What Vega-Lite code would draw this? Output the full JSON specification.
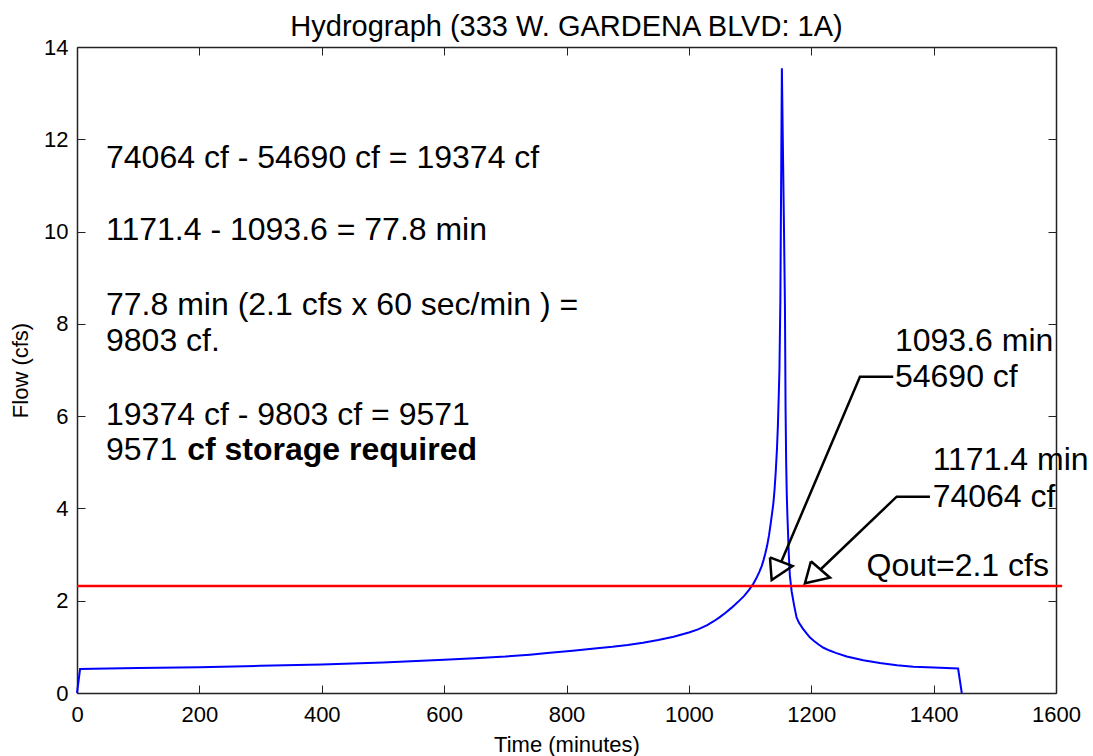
{
  "$schema": "https://vega.github.io/schema/vega-lite/v6.json",
  "width": 979,
  "height": 646,
  "autosize": "none",
  "padding": {"left": 77, "top": 47, "right": 37, "bottom": 63},
  "background": "white",
  "config": {
    "font": "Liberation Sans",
    "view": {"stroke": null},
    "axis": {
      "domainColor": "#222222",
      "domainWidth": 1.5,
      "tickColor": "#222222",
      "tickWidth": 1,
      "tickSize": -8,
      "grid": false,
      "labelFlush": false,
      "labelFont": "Liberation Sans",
      "labelFontSize": 22,
      "labelColor": "black",
      "titleFont": "Liberation Sans",
      "titleFontSize": 22,
      "titleFontWeight": "normal",
      "titleColor": "black"
    }
  },
  "title": {
    "text": "Hydrograph (333 W. GARDENA BLVD: 1A)",
    "font": "Liberation Sans",
    "fontSize": 29,
    "fontWeight": "normal",
    "color": "black",
    "offset": -6
  },
  "datasets": {
    "flow": [
      {"t": 0, "q": 0},
      {"t": 5, "q": 0.52},
      {"t": 50, "q": 0.53},
      {"t": 100, "q": 0.54},
      {"t": 200, "q": 0.56},
      {"t": 300, "q": 0.59},
      {"t": 400, "q": 0.62},
      {"t": 500, "q": 0.66},
      {"t": 600, "q": 0.72},
      {"t": 650, "q": 0.755},
      {"t": 700, "q": 0.79},
      {"t": 740, "q": 0.83},
      {"t": 773, "q": 0.87},
      {"t": 810, "q": 0.915},
      {"t": 850, "q": 0.97},
      {"t": 875, "q": 1.0},
      {"t": 900, "q": 1.04},
      {"t": 925, "q": 1.09},
      {"t": 950, "q": 1.15},
      {"t": 975, "q": 1.22},
      {"t": 1000, "q": 1.31},
      {"t": 1015, "q": 1.38},
      {"t": 1030, "q": 1.47},
      {"t": 1040, "q": 1.55},
      {"t": 1050, "q": 1.64},
      {"t": 1060, "q": 1.74},
      {"t": 1070, "q": 1.85},
      {"t": 1080, "q": 1.97},
      {"t": 1090, "q": 2.1},
      {"t": 1098, "q": 2.23},
      {"t": 1105, "q": 2.36},
      {"t": 1110, "q": 2.48},
      {"t": 1115, "q": 2.62},
      {"t": 1119, "q": 2.75},
      {"t": 1122, "q": 2.88},
      {"t": 1125, "q": 3.03},
      {"t": 1128, "q": 3.2},
      {"t": 1131, "q": 3.42},
      {"t": 1134, "q": 3.7},
      {"t": 1136, "q": 3.9},
      {"t": 1138, "q": 4.1},
      {"t": 1140, "q": 4.4},
      {"t": 1142, "q": 4.8},
      {"t": 1144, "q": 5.3},
      {"t": 1145.5, "q": 5.8},
      {"t": 1147, "q": 6.5},
      {"t": 1148, "q": 7.0},
      {"t": 1149.5, "q": 8.5},
      {"t": 1151, "q": 11.5},
      {"t": 1152, "q": 13.54},
      {"t": 1153.5, "q": 12.0},
      {"t": 1155.5, "q": 10.0},
      {"t": 1157, "q": 8.4},
      {"t": 1158, "q": 6.2},
      {"t": 1159, "q": 5.0},
      {"t": 1160, "q": 4.3},
      {"t": 1161, "q": 3.85},
      {"t": 1162, "q": 3.5},
      {"t": 1163.5, "q": 2.95},
      {"t": 1165, "q": 2.55},
      {"t": 1168, "q": 2.2},
      {"t": 1172, "q": 1.9},
      {"t": 1176, "q": 1.64},
      {"t": 1180, "q": 1.52},
      {"t": 1186, "q": 1.4},
      {"t": 1192, "q": 1.3},
      {"t": 1198, "q": 1.2},
      {"t": 1205, "q": 1.12},
      {"t": 1212, "q": 1.05},
      {"t": 1220, "q": 0.98},
      {"t": 1230, "q": 0.92},
      {"t": 1240, "q": 0.87},
      {"t": 1258, "q": 0.79},
      {"t": 1285, "q": 0.71},
      {"t": 1312, "q": 0.65},
      {"t": 1340, "q": 0.6},
      {"t": 1367, "q": 0.57},
      {"t": 1400, "q": 0.55},
      {"t": 1440, "q": 0.53},
      {"t": 1446, "q": 0}
    ],
    "qout": [{"t": 0, "t2": 1610, "q": 2.32}],
    "arrows": [
      {"seg": "a1", "ord": 1, "t": 1334, "q": 6.855},
      {"seg": "a1", "ord": 2, "t": 1279.6, "q": 6.855},
      {"seg": "a1", "ord": 3, "t": 1151, "q": 2.845},
      {"seg": "h1", "ord": 1, "t": 1132.5, "q": 2.94},
      {"seg": "h1", "ord": 2, "t": 1169.5, "q": 2.75},
      {"seg": "h1", "ord": 3, "t": 1135.3, "q": 2.449},
      {"seg": "h1", "ord": 4, "t": 1132.5, "q": 2.94},
      {"seg": "a2", "ord": 1, "t": 1394, "q": 4.254},
      {"seg": "a2", "ord": 2, "t": 1339.6, "q": 4.254},
      {"seg": "a2", "ord": 3, "t": 1215.1, "q": 2.677},
      {"seg": "h2", "ord": 1, "t": 1199.5, "q": 2.854},
      {"seg": "h2", "ord": 2, "t": 1230.6, "q": 2.499},
      {"seg": "h2", "ord": 3, "t": 1189.7, "q": 2.378},
      {"seg": "h2", "ord": 4, "t": 1199.5, "q": 2.854}
    ],
    "notes": [
      {"label": "74064 cf - 54690 cf = 19374 cf", "t": 47.4, "q": 11.378},
      {"label": "1171.4 - 1093.6 = 77.8 min", "t": 47.4, "q": 9.818},
      {"label": "77.8 min (2.1 cfs x 60 sec/min ) =", "t": 47.4, "q": 8.192},
      {"label": "9803 cf.", "t": 47.4, "q": 7.412},
      {"label": "19374 cf - 9803 cf = 9571", "t": 47.4, "q": 5.808},
      {"label": "9571", "t": 47.4, "q": 5.05},
      {"label": "1093.6 min", "t": 1336.8, "q": 7.412},
      {"label": "54690 cf", "t": 1336.8, "q": 6.632},
      {"label": "1171.4 min", "t": 1398.4, "q": 4.833},
      {"label": "74064 cf", "t": 1398.4, "q": 4.031},
      {"label": "Qout=2.1 cfs", "t": 1290.5, "q": 2.536}
    ],
    "boldnotes": [
      {"label": "cf storage required", "t": 180, "q": 5.05}
    ]
  },
  "layer": [
    {
      "data": {"name": "flow"},
      "mark": {"type": "line", "color": "#0000ff", "strokeWidth": 2},
      "encoding": {
        "x": {
          "field": "t", "type": "quantitative",
          "scale": {"domain": [0, 1600], "nice": false, "zero": false},
          "axis": {"orient": "bottom", "values": [0, 200, 400, 600, 800, 1000, 1200, 1400, 1600], "format": "d", "title": "Time (minutes)", "labelPadding": 19, "titlePadding": 9}
        },
        "y": {
          "field": "q", "type": "quantitative",
          "scale": {"domain": [0, 14], "nice": false, "zero": false},
          "axis": {"orient": "left", "values": [0, 2, 4, 6, 8, 10, 12, 14], "format": "d", "title": "Flow (cfs)", "labelPadding": 17, "titlePadding": 11}
        },
        "order": {"field": "t", "type": "quantitative"}
      }
    },
    {
      "data": {"name": "qout"},
      "mark": {"type": "rule", "color": "#ff0000", "strokeWidth": 2.5, "clip": false},
      "encoding": {
        "x": {
          "field": "t", "type": "quantitative",
          "scale": {"domain": [0, 1600], "nice": false, "zero": false},
          "axis": {"orient": "top", "values": [0, 200, 400, 600, 800, 1000, 1200, 1400, 1600], "labels": false, "title": null}
        },
        "x2": {"field": "t2"},
        "y": {
          "field": "q", "type": "quantitative",
          "scale": {"domain": [0, 14], "nice": false, "zero": false},
          "axis": {"orient": "right", "values": [0, 2, 4, 6, 8, 10, 12, 14], "labels": false, "title": null}
        }
      }
    },
    {
      "data": {"name": "arrows"},
      "mark": {"type": "line", "color": "black", "strokeWidth": 2.5, "strokeJoin": "miter", "clip": false},
      "encoding": {
        "x": {"field": "t", "type": "quantitative", "scale": {"domain": [0, 1600], "nice": false, "zero": false}, "axis": null},
        "y": {"field": "q", "type": "quantitative", "scale": {"domain": [0, 14], "nice": false, "zero": false}, "axis": null},
        "detail": {"field": "seg", "type": "nominal"},
        "order": {"field": "ord", "type": "quantitative"}
      }
    },
    {
      "data": {"name": "notes"},
      "mark": {"type": "text", "font": "Liberation Sans", "fontSize": 32, "align": "left", "baseline": "alphabetic", "color": "black", "clip": false},
      "encoding": {
        "x": {"field": "t", "type": "quantitative", "scale": {"domain": [0, 1600], "nice": false, "zero": false}, "axis": null},
        "y": {"field": "q", "type": "quantitative", "scale": {"domain": [0, 14], "nice": false, "zero": false}, "axis": null},
        "text": {"field": "label"}
      }
    },
    {
      "data": {"name": "boldnotes"},
      "mark": {"type": "text", "font": "Liberation Sans", "fontSize": 32, "fontWeight": "bold", "align": "left", "baseline": "alphabetic", "color": "black", "clip": false},
      "encoding": {
        "x": {"field": "t", "type": "quantitative", "scale": {"domain": [0, 1600], "nice": false, "zero": false}, "axis": null},
        "y": {"field": "q", "type": "quantitative", "scale": {"domain": [0, 14], "nice": false, "zero": false}, "axis": null},
        "text": {"field": "label"}
      }
    }
  ],
  "resolve": {"axis": {"x": "independent", "y": "independent"}}
}
